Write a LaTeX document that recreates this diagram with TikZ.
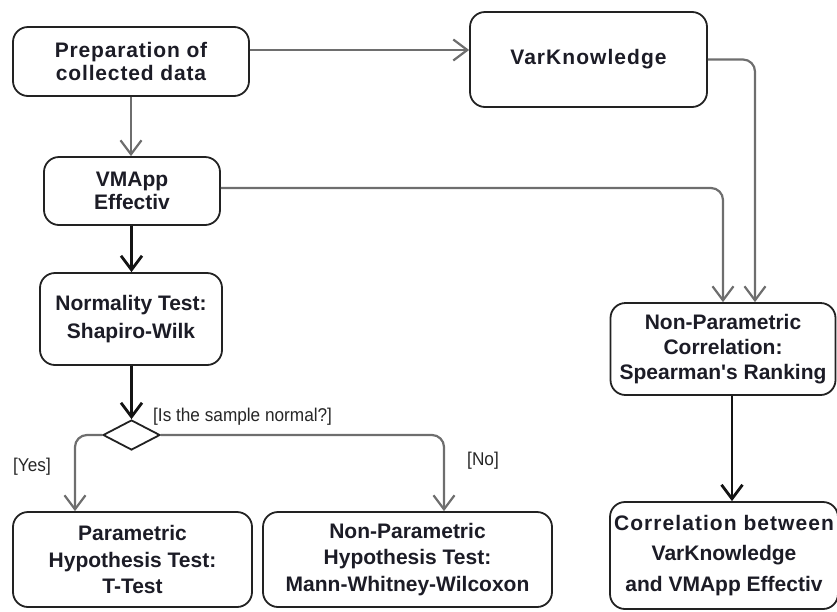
\documentclass[tikz,border=0pt]{standalone}
\usepackage{fontspec}
\setmainfont{Liberation Sans}
\newfontfamily\guardfont[FakeStretch=0.93]{Liberation Sans}
\usetikzlibrary{arrows.meta,shapes.geometric}
\definecolor{linegray}{HTML}{6E6E6E}
\definecolor{boxline}{HTML}{222222}
\definecolor{textdark}{HTML}{1C1C26}
\newcommand{\spaced}[1]{\addfontfeature{LetterSpace=#1}}
\tikzset{
  activity/.style={draw=boxline, line width=1.8pt, rounded corners=15pt, fill=white,
    align=center, inner sep=0pt, text=textdark,
    font=\fontsize{21}{27}\selectfont\bfseries},
  leading/.style={font=\fontsize{21}{#1}\selectfont\bfseries},
  decision/.style={diamond, draw=boxline, line width=1.8pt, fill=white, inner sep=0pt,
    minimum width=57pt, minimum height=30pt},
  tip/.style={-{Straight Barb[length=14pt,width=21pt]}},
  flowgray/.style={tip, draw=linegray, line width=2.2pt},
  flowdark/.style={tip, draw=black!92, line width=2.8pt},
  guard/.style={text=black!85, inner sep=0pt, font=\guardfont\fontsize{18.5}{22}\selectfont},
}
\begin{document}
\begin{tikzpicture}[x={(1pt,0)}, y={(0,-1pt)}]
  \useasboundingbox (0,0) rectangle (837,611);

  % activities
  \node[activity, leading=22.5, minimum width=236pt, minimum height=69pt] (prep) at (131,61.5)
    {\spaced{4}Preparation of\\\spaced{4}collected data};
  \node[activity, minimum width=237pt, minimum height=95pt] (vk) at (588.5,59.5)
    {\spaced{5}VarKnowledge};
  \node[activity, leading=23, minimum width=176pt, minimum height=68pt] (vm) at (132,191)
    {VMApp\\Effectiv};
  \node[activity, leading=28, minimum width=182pt, minimum height=92pt] (nt) at (131,319)
    {Normality Test:\\Shapiro-Wilk};
  \node[decision] (dec) at (131.5,435) {};
  \node[activity, leading=26.5, minimum width=239pt, minimum height=95pt] (par) at (132.5,559.5)
    {Parametric\\Hypothesis Test:\\T-Test};
  \node[activity, leading=26.5, minimum width=289pt, minimum height=95pt] (npar) at (407.5,559.5)
    {Non-Parametric\\Hypothesis Test:\\Mann-Whitney-Wilcoxon};
  \node[activity, leading=25, minimum width=225pt, minimum height=92pt] (sp) at (723,349)
    {Non-Parametric\\Correlation:\\Spearman\textquotesingle s Ranking};
  \node[activity, leading=30.5, minimum width=228pt, minimum height=107pt] (cor) at (724,555.5)
    {{\spaced{5}Correlation between}\\VarKnowledge\\and VMApp Effectiv};

  % routing helpers
  \coordinate (toprow) at (0,50);
  \coordinate (vmrow) at (0,188);
  \coordinate (yesx) at (75,0);
  \coordinate (nox) at (444,0);
  \coordinate (vkx) at (755,0);
  \coordinate (corx) at (732,0);

  % connectors
  \draw[flowgray] (prep.south) -- (prep.south |- vm.north);
  \draw[flowgray] (prep.east |- toprow) -- (vk.west |- toprow);
  \draw[flowgray, rounded corners=12pt] (vm.east |- vmrow) -| (sp.north);
  \draw[flowgray, rounded corners=12pt] (vk.east) -| (vkx |- sp.north);
  \draw[flowdark] (vm.south -| dec) -- (nt.north -| dec);
  \draw[flowdark] (nt.south -| dec) -- (dec.north);
  \draw[flowgray, rounded corners=12pt] (dec.west) -| (yesx |- par.north);
  \draw[flowgray, rounded corners=12pt] (dec.east) -| (nox |- npar.north);
  \draw[flowdark] (corx |- sp.south) -- (corx |- cor.north);

  % guards
  \node[guard, anchor=west] (q) at (153,417) {[Is the sample normal?]};
  \node[guard] (yes) at (32,467) {[Yes]};
  \node[guard] (no) at (483,461) {[No]};
\end{tikzpicture}
\end{document}
